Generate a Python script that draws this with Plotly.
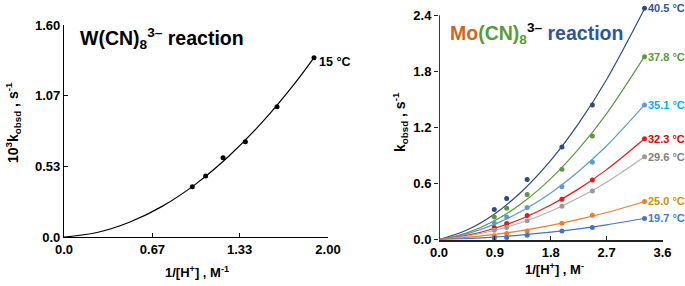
import plotly.graph_objects as go

# ---------------- Left panel: W(CN)8^3- ----------------
w_x = [0.972, 1.073, 1.205, 1.374, 1.614, 1.894]
w_y = [0.380, 0.460, 0.598, 0.719, 0.983, 1.353]
w_fit_x = [0, 0.25, 0.5, 0.75, 1.0, 1.25, 1.5, 1.75, 1.894]
w_fit_y = [0, 0.034, 0.113, 0.235, 0.401, 0.611, 0.865, 1.162, 1.354]
w_xticks = [0, 0.67, 1.33, 2.0]
w_xticklabels = ["0.0", "0.67", "1.33", "2.00"]
w_yticks = [0, 0.53, 1.07, 1.6]
w_yticklabels = ["0.0", "0.53", "1.07", "1.60"]
w_label = "15 °C"

# ---------------- Right panel: Mo(CN)8^3- ----------------
mo_x = [0.89, 1.09, 1.42, 1.98, 2.47, 3.31]
mo_temps = ["40.5 °C", "37.8 °C", "35.1 °C", "32.3 °C", "29.6 °C", "25.0 °C", "19.7 °C"]
mo_y_405 = [0.320, 0.440, 0.643, 0.990, 1.440, 2.475]
mo_y_378 = [0.242, 0.335, 0.482, 0.753, 1.107, 1.957]
mo_y_351 = [0.178, 0.242, 0.343, 0.564, 0.828, 1.439]
mo_y_323 = [0.129, 0.171, 0.257, 0.432, 0.636, 1.078]
mo_y_296 = [0.100, 0.129, 0.200, 0.357, 0.520, 0.885]
mo_y_250 = [0.039, 0.064, 0.092, 0.175, 0.260, 0.407]
mo_y_197 = [0.017, 0.021, 0.046, 0.092, 0.129, 0.225]
mo_fit_x = [0, 0.45, 0.9, 1.35, 1.8, 2.25, 2.7, 3.31]
mo_fit_405 = [0, 0.101, 0.276, 0.525, 0.847, 1.243, 1.713, 2.470]
mo_fit_378 = [0, 0.071, 0.203, 0.397, 0.652, 0.970, 1.348, 1.960]
mo_fit_351 = [0, 0.061, 0.164, 0.310, 0.498, 0.730, 1.003, 1.441]
mo_fit_323 = [0, 0.044, 0.120, 0.228, 0.369, 0.542, 0.748, 1.078]
mo_fit_296 = [0, 0.036, 0.099, 0.187, 0.303, 0.446, 0.614, 0.885]
mo_fit_250 = [0, 0.022, 0.054, 0.097, 0.151, 0.215, 0.289, 0.407]
mo_fit_197 = [0, 0.010, 0.026, 0.049, 0.078, 0.114, 0.157, 0.225]
mo_xticks = [0, 0.9, 1.8, 2.7, 3.6]
mo_xticklabels = ["0.0", "0.9", "1.8", "2.7", "3.6"]
mo_yticks = [0, 0.6, 1.2, 1.8, 2.4]
mo_yticklabels = ["0.0", "0.6", "1.2", "1.8", "2.4"]

mo_series = [mo_y_405, mo_y_378, mo_y_351, mo_y_323, mo_y_296, mo_y_250, mo_y_197]
mo_fits = [mo_fit_405, mo_fit_378, mo_fit_351, mo_fit_323, mo_fit_296, mo_fit_250, mo_fit_197]
line_colors = ["#2E4A86", "#5A9A3C", "#5B9BD5", "#E31A1C", "#B0B0B0", "#ED7D31", "#4472C4"]
marker_colors = ["#2E4A86", "#5A9A3C", "#5B9BD5", "#E31A1C", "#9A9A9A", "#ED7D31", "#4472C4"]
label_colors = ["#2F5597", "#5A9A3C", "#00B0F0", "#E00000", "#808080", "#C99500", "#3A7CC9"]

FONT = "Liberation Sans, Arial, sans-serif"
W, H = 685, 286


def px(x):
    return x / W


def py(y):
    return 1 - y / H


fig = go.Figure()

# left panel
fig.add_trace(go.Scatter(x=w_fit_x, y=w_fit_y, mode="lines", line=dict(color="black", width=1.2, shape="spline"),
                         xaxis="x", yaxis="y", showlegend=False, hoverinfo="skip", cliponaxis=False))
fig.add_trace(go.Scatter(x=w_x, y=w_y, mode="markers", marker=dict(color="black", size=5),
                         xaxis="x", yaxis="y", showlegend=False, cliponaxis=False))

# right panel
for ys, fy, lc, mc in zip(mo_series, mo_fits, line_colors, marker_colors):
    fig.add_trace(go.Scatter(x=mo_fit_x, y=fy, mode="lines", line=dict(color=lc, width=1.2, shape="spline"),
                             xaxis="x2", yaxis="y2", showlegend=False, hoverinfo="skip", cliponaxis=False))
    fig.add_trace(go.Scatter(x=mo_x, y=ys, mode="markers", marker=dict(color=mc, size=5),
                             xaxis="x2", yaxis="y2", showlegend=False, cliponaxis=False))

annotations = []
annotations.append(dict(x=w_x[-1], y=w_y[-1], xref="x", yref="y", text="<b>" + w_label + "</b>",
                        showarrow=False, xanchor="left", yanchor="middle", xshift=3, yshift=-4,
                        font=dict(family=FONT, size=12.5, color="black")))
for t, ys, c in zip(mo_temps, mo_series, label_colors):
    annotations.append(dict(x=mo_x[-1], y=ys[-1], xref="x2", yref="y2", text="<b>" + t + "</b>",
                            showarrow=False, xanchor="left", yanchor="middle", xshift=1,
                            font=dict(family=FONT, size=11, color=c)))
annotations.append(dict(x=px(78), y=py(38), xref="paper", yref="paper",
                        text="<b>W(CN)<sub>8</sub><sup>3–</sup> reaction</b>",
                        showarrow=False, xanchor="left", yanchor="middle",
                        font=dict(family=FONT, size=19.5, color="black")))
annotations.append(dict(x=px(448), y=py(33), xref="paper", yref="paper",
                        text="<b><span style='color:#D0661C'>Mo</span><span style='color:#5A9A3C'>(CN)<sub>8</sub></span><sup>3–</sup> <span style='color:#2F5597'>reaction</span></b>",
                        showarrow=False, xanchor="left", yanchor="middle",
                        font=dict(family=FONT, size=19.5, color="black")))
annotations.append(dict(x=px(13), y=py(123), xref="paper", yref="paper",
                        text="<b>10<sup>3</sup>k<sub>obsd</sub> , s<sup>-1</sup></b>", textangle=-90,
                        showarrow=False, xanchor="center", yanchor="middle",
                        font=dict(family=FONT, size=14, color="black")))
annotations.append(dict(x=px(400), y=py(122), xref="paper", yref="paper",
                        text="<b>k<sub>obsd</sub> , s<sup>-1</sup></b>", textangle=-90,
                        showarrow=False, xanchor="center", yanchor="middle",
                        font=dict(family=FONT, size=14, color="black")))
annotations.append(dict(x=px(197), y=py(272), xref="paper", yref="paper",
                        text="<b>1/[H<sup>+</sup>] , M<sup>-1</sup></b>",
                        showarrow=False, xanchor="center", yanchor="middle",
                        font=dict(family=FONT, size=13, color="black")))
annotations.append(dict(x=px(554), y=py(269), xref="paper", yref="paper",
                        text="<b>1/[H<sup>+</sup>] , M<sup>-</sup></b>",
                        showarrow=False, xanchor="center", yanchor="middle",
                        font=dict(family=FONT, size=13, color="black")))

tickfont = dict(family=FONT, size=13, color="black", weight="bold")

# right y-axis line drawn only up to the last tick (2.4)
shapes = [dict(type="line", xref="x2", yref="y2", x0=0, x1=0, y0=0, y1=mo_yticks[-1],
               line=dict(color="#222222", width=1.8))]

y2_top_px = 239.5 - 2.5 * (224.2 / 2.4)

fig.update_layout(
    width=W, height=H,
    margin=dict(l=0, r=0, t=0, b=0, autoexpand=False),
    paper_bgcolor="white", plot_bgcolor="white",
    showlegend=False,
    annotations=annotations,
    shapes=shapes,
    xaxis=dict(domain=[px(64), px(328)], range=[0, 2.0], tickvals=w_xticks, ticktext=w_xticklabels,
               showgrid=False, zeroline=False, showline=True, linecolor="black", linewidth=1.3,
               ticks="inside", ticklen=4, tickcolor="black", tickfont=tickfont, anchor="y",
               automargin=False),
    yaxis=dict(domain=[py(237), py(25)], range=[0, 1.6], tickvals=w_yticks, ticktext=w_yticklabels,
               showgrid=False, zeroline=False, showline=True, linecolor="black", linewidth=1.3,
               ticks="inside", ticklen=4, tickcolor="black", tickfont=tickfont, anchor="x",
               automargin=False),
    xaxis2=dict(domain=[px(439), px(662.5)], range=[0, 3.6], tickvals=mo_xticks, ticktext=mo_xticklabels,
                showgrid=False, zeroline=False, showline=True, linecolor="#222222", linewidth=1.8,
                ticks="inside", ticklen=4, tickcolor="#222222", tickfont=tickfont, anchor="y2",
                automargin=False),
    yaxis2=dict(domain=[py(239.5), py(y2_top_px)], range=[0, 2.5], tickvals=mo_yticks, ticktext=mo_yticklabels,
                showgrid=False, zeroline=False, showline=False,
                ticks="outside", ticklen=4, tickcolor="#222222", tickfont=tickfont, anchor="x2",
                automargin=False),
)

fig.write_html("out.html", config={"displayModeBar": False},
               post_script="document.body.style.margin='0';")
